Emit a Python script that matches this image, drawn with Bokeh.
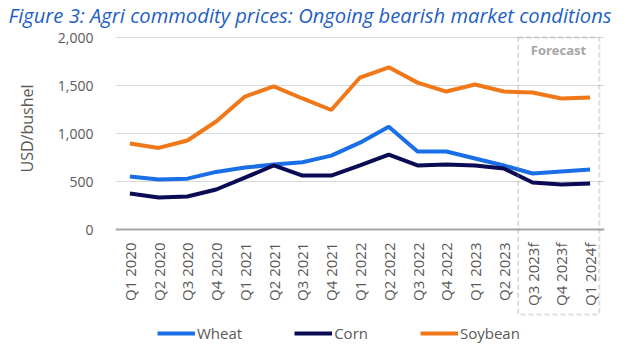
from bokeh.plotting import figure
from bokeh.models import FactorRange, Range1d, BoxAnnotation, Label, Legend, LegendItem, NumeralTickFormatter, FixedTicker, Title
from bokeh.embed import file_html
from bokeh.resources import INLINE
import math

quarters = ["Q1 2020", "Q2 2020", "Q3 2020", "Q4 2020", "Q1 2021", "Q2 2021", "Q3 2021", "Q4 2021",
            "Q1 2022", "Q2 2022", "Q3 2022", "Q4 2022", "Q1 2023", "Q2 2023",
            "Q3 2023f", "Q4 2023f", "Q1 2024f"]
wheat = [552, 520, 530, 600, 645, 677, 700, 770, 905, 1070, 812, 812, 740, 667, 583, 605, 625]
corn = [375, 333, 344, 417, 540, 667, 562, 562, 667, 781, 667, 677, 667, 635, 490, 469, 479]
soybean = [896, 850, 927, 1125, 1385, 1490, 1365, 1245, 1583, 1690, 1530, 1437, 1510, 1437, 1427, 1365, 1375]
y_ticks = [0, 500, 1000, 1500, 2000]

FONT = "Open Sans"
GRAY = "#595959"

p = figure(width=626, height=355, x_range=FactorRange(*quarters, range_padding=0),
           y_range=Range1d(-1281, 2073), output_backend="svg", toolbar_location=None,
           min_border_left=108, min_border_right=22, min_border_top=0, min_border_bottom=3)
p.outline_line_color = None
p.background_fill_color = "white"
p.border_fill_color = "white"

p.title = Title(text="Figure 3: Agri commodity prices: Ongoing bearish market conditions",
                text_font=FONT, text_font_style="italic", text_font_size="20.2px",
                text_color="#1f5fc4", offset=-107, standoff=0, vertical_align="top", align="left")

c_wheat = "#1a6fe6"
c_corn = "#0b0b55"
c_soy = "#f07818"

r_w = p.line(quarters, wheat, line_color=c_wheat, line_width=4)
r_c = p.line(quarters, corn, line_color=c_corn, line_width=4)
r_s = p.line(quarters, soybean, line_color=c_soy, line_width=4)

p.yaxis.ticker = FixedTicker(ticks=y_ticks)
p.yaxis.formatter = NumeralTickFormatter(format="0,0")
p.yaxis.axis_line_color = None
p.yaxis.major_tick_line_color = None
p.yaxis.minor_tick_line_color = None
p.yaxis.major_label_text_font = FONT
p.yaxis.major_label_text_font_size = "14px"
p.yaxis.major_label_text_color = GRAY
p.yaxis.major_label_standoff = 16

p.add_layout(Title(text="USD/bushel", text_font=FONT, text_font_style="normal", text_font_size="16px",
                   text_color=GRAY, align="left", offset=180, vertical_align="top", standoff=30), "left")

p.xaxis.fixed_location = 0
p.xaxis.major_label_orientation = math.pi / 2
p.xaxis.axis_line_color = "#a6a6a6"
p.xaxis.axis_line_width = 2
p.xaxis.major_tick_line_color = None
p.xaxis.minor_tick_line_color = None
p.xaxis.major_label_text_font = FONT
p.xaxis.major_label_text_font_size = "15px"
p.xaxis.major_label_text_color = GRAY
p.xaxis.major_label_standoff = 7

p.xgrid.grid_line_color = None
p.ygrid.grid_line_color = "#d9d9d9"
p.ygrid.grid_line_width = 1

box = BoxAnnotation(left=14.0, right=16.82, top=2000, bottom=-885, fill_color=None, fill_alpha=0,
                    line_color="#8a8a8a", line_width=2, line_dash="5 3")
p.add_layout(box)

p.add_layout(Label(x=15.4, y=1870, text="Forecast", text_align="center", text_baseline="middle",
                   text_font=FONT, text_font_style="bold", text_font_size="13px", text_color="#a6a6a6"))

legend = Legend(items=[LegendItem(label="Wheat", renderers=[r_w]),
                       LegendItem(label="Corn", renderers=[r_c]),
                       LegendItem(label="Soybean", renderers=[r_s])],
                orientation="horizontal", location=(42, 9))
legend.label_text_font = FONT
legend.label_text_font_size = "15px"
legend.label_text_color = GRAY
legend.glyph_width = 38
legend.spacing = 52
legend.label_standoff = 2
legend.border_line_color = None
legend.background_fill_alpha = 0
legend.padding = 4
legend.margin = 0
p.add_layout(legend)

open("out.html", "w").write(file_html(p, INLINE))
